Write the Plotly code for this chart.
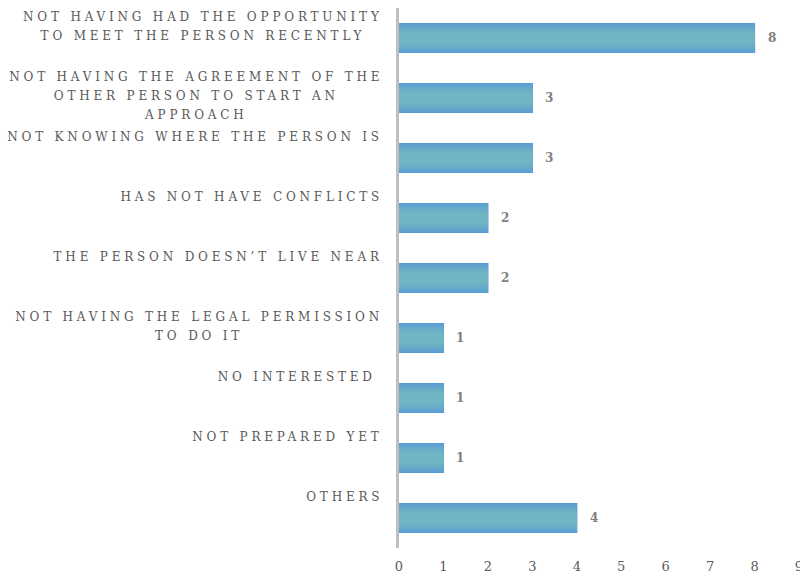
import plotly.graph_objects as go

# Reasons given, top to bottom, and how many respondents gave each
categories = [
    "NOT HAVING HAD THE OPPORTUNITY<br>TO MEET THE PERSON RECENTLY",
    "NOT HAVING THE AGREEMENT OF THE<br>OTHER PERSON TO START AN<br>APPROACH",
    "NOT KNOWING WHERE THE PERSON IS",
    "HAS NOT HAVE CONFLICTS",
    "THE PERSON DOESN\u2019T LIVE NEAR",
    "NOT HAVING THE LEGAL PERMISSION<br>TO DO IT",
    "NO INTERESTED\u00a0",
    "NOT PREPARED YET",
    "OTHERS",
]
counts = [8, 3, 3, 2, 2, 1, 1, 1, 4]
x_ticks = list(range(0, 10))

SERIF = "DejaVu Serif"
EDGE_BLUE = "#5b9bd5"

fig = go.Figure()

# Stacked layers of decreasing thickness give the bars a soft shaded core
layers = [
    (0.48, "#5e9fd2", dict(color=EDGE_BLUE, width=1.2)),
    (0.42, "#62a6cd", dict(width=0)),
    (0.35, "#67acc9", dict(width=0)),
    (0.27, "#6bb1c5", dict(width=0)),
    (0.18, "#6fb5c2", dict(width=0)),
]
for w, fill, edge in layers:
    fig.add_trace(go.Bar(
        x=counts, y=categories, orientation="h", width=w,
        marker=dict(color=fill, line=edge),
        hoverinfo="skip", showlegend=False,
    ))

annotations = []
# Category labels sit above-left of their bar, right-aligned to the axis
for i, label in enumerate(categories):
    annotations.append(dict(
        xref="paper", x=0, xshift=-14, xanchor="right",
        yref="y", y=i - 0.5, yanchor="top", yshift=0,
        text=label, align="center", showarrow=False,
        font=dict(family=SERIF, size=12, color="#595959"),
    ))
# Value labels just beyond each bar end
for label, v in zip(categories, counts):
    annotations.append(dict(
        xref="x", x=v, xshift=17, xanchor="center",
        yref="y", y=label, yanchor="middle",
        text=str(v), showarrow=False,
        font=dict(family=SERIF, size=12, color="#808080", weight="bold"),
    ))

fig.update_layout(
    width=800, height=578,
    margin=dict(l=399, r=1, t=8, b=30, autoexpand=False),
    barmode="overlay",
    paper_bgcolor="white", plot_bgcolor="white",
    annotations=annotations,
    xaxis=dict(
        range=[0, 9], tickvals=x_ticks, showgrid=False, zeroline=False,
        showline=False, ticks="", ticklabelstandoff=9,
        ticklabeloverflow="allow", automargin=False,
        tickfont=dict(family=SERIF, size=13, color="#595959"),
    ),
    yaxis=dict(
        type="category", categoryorder="array", categoryarray=categories,
        range=[len(categories) - 0.5, -0.5], automargin=False,
        showticklabels=False, showgrid=False, zeroline=False,
        showline=True, linecolor="#bfbfbf", linewidth=3, ticks="",
    ),
)

# Widen the letter tracking of the category labels and open up their line
# spacing, keeping each label's right edge where it was placed.
post_js = """
var gd = document.getElementById('{plot_id}');
gd.querySelectorAll('text.annotation-text').forEach(function(t){
  if(!/[A-Z]/.test(t.textContent)) return;
  var b0 = t.getBBox();
  t.style.letterSpacing = '3.8px';
  t.querySelectorAll('tspan.line').forEach(function(s, i){
    s.setAttribute('dy', (i * 1.6) + 'em');
  });
  var b1 = t.getBBox();
  var dx = (b0.x + b0.width) - (b1.x + b1.width);
  t.setAttribute('transform', 'translate(' + dx + ',0)');
});
"""

fig.write_html("out.html", post_script=post_js)
